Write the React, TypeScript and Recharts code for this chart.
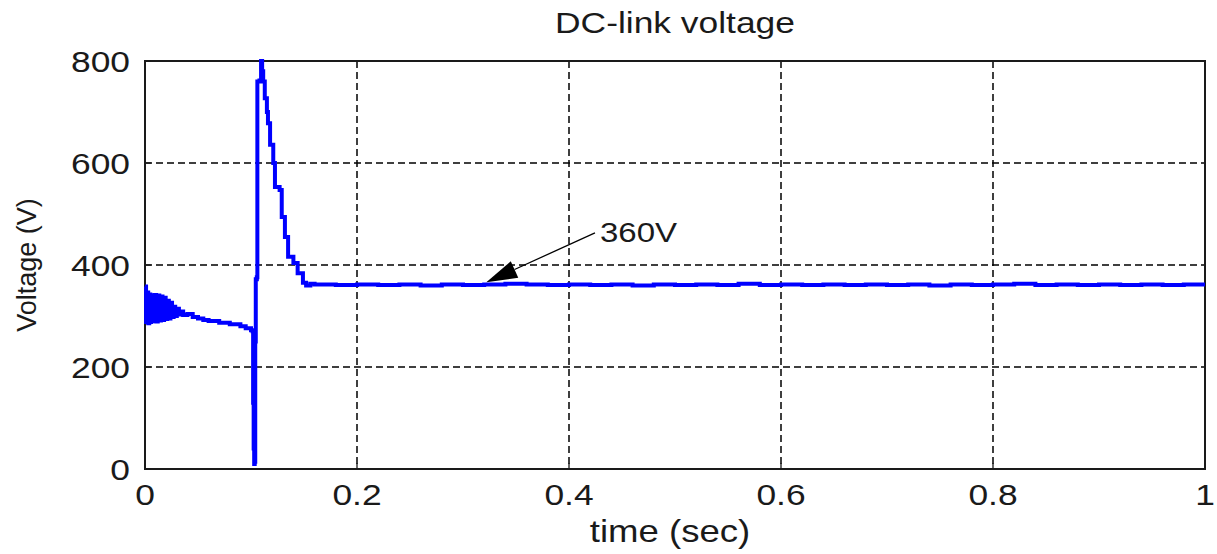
import {
  CartesianGrid,
  Label,
  Line,
  LineChart,
  ReferenceArea,
  ReferenceLine,
  XAxis,
  YAxis,
} from "recharts";

// Simulated DC-link voltage: start-up ripple, switching dip/overshoot, then steady state.
const TIME_S = [
  0, 0.001, 0.002, 0.003, 0.004, 0.005, 0.006, 0.0075, 0.009, 0.0105, 0.012,
  0.0135, 0.015, 0.0165, 0.018, 0.0195, 0.021, 0.0225, 0.024, 0.0255, 0.027,
  0.0285, 0.03, 0.032, 0.034, 0.036, 0.04, 0.045, 0.05, 0.055, 0.06, 0.07,
  0.08, 0.09, 0.095, 0.1, 0.1015, 0.102, 0.1025, 0.103, 0.1035, 0.104,
  0.1045, 0.1055, 0.106, 0.108, 0.1095, 0.1105, 0.1115, 0.113, 0.115, 0.116,
  0.118, 0.121, 0.1226, 0.127, 0.129, 0.132, 0.135, 0.14, 0.144, 0.149,
  0.152, 0.156, 0.16, 0.18, 0.2, 0.22, 0.24, 0.26, 0.28, 0.3, 0.32, 0.34,
  0.36, 0.38, 0.4, 0.42, 0.44, 0.46, 0.48, 0.5, 0.52, 0.54, 0.56, 0.58, 0.6,
  0.62, 0.64, 0.66, 0.68, 0.7, 0.72, 0.74, 0.76, 0.78, 0.8, 0.82, 0.84,
  0.86, 0.88, 0.9, 0.92, 0.94, 0.96, 0.98, 1.0,
];

const VOLTAGE_V = [
  358, 288, 346, 286, 342, 288, 340, 290, 341, 289, 340,
  291, 338, 292, 336, 294, 330, 295, 326, 298, 318,
  300, 314, 303, 309, 302, 304, 298, 295, 292, 290, 287,
  284, 280, 276, 272, 270, 130, 40, 10, 14, 250,
  372, 376, 760, 762, 800, 780, 760, 727, 700, 678,
  636, 600, 553, 547, 494, 455, 416, 404, 384, 365,
  360, 363, 362, 361, 362, 361, 362, 360, 362, 361, 362, 363,
  362, 361, 362, 361, 362, 360, 362, 361, 362, 361, 363, 361, 362,
  361, 362, 361, 362, 361, 362, 360, 362, 361, 362, 363, 361,
  362, 361, 362, 361, 362, 361, 362, 362,
];

const X_TICKS = [0, 0.2, 0.4, 0.6, 0.8, 1];
const Y_TICKS = [0, 200, 400, 600, 800];

// annotation arrow: text end -> tip on the settled trace
const NOTE_TEXT = "360V";
const NOTE_FROM = { t: 0.4245, v: 463 };
const NOTE_TIP = { t: 0.322, v: 366 };

const data = TIME_S.map((t, i) => ({ t, v: VOLTAGE_V[i] }));

const FONT = "'Liberation Sans', Arial, sans-serif";
const INK = "#1a1a1a";
const WIDE = 1.18; // the labels are drawn slightly widened

function XTick({ x, y, payload }: any) {
  return (
    <g transform={`translate(${x},${y}) scale(${WIDE},1)`}>
      <text x={0} y={0} dy={22} textAnchor="middle" fontSize={30} fill={INK} fontFamily={FONT}>
        {String(payload.value)}
      </text>
    </g>
  );
}

function YTick({ x, y, payload }: any) {
  return (
    <g transform={`translate(${x},${y}) scale(${WIDE},1)`}>
      <text x={0} y={0} dy={11} textAnchor="end" fontSize={30} fill={INK} fontFamily={FONT}>
        {String(payload.value)}
      </text>
    </g>
  );
}

const NoTick = () => <g />;

function Arrow(props: any) {
  const { x1, y1, x2, y2 } = props;
  const dx = x2 - x1;
  const dy = y2 - y1;
  const len = Math.hypot(dx, dy) || 1;
  const ux = dx / len;
  const uy = dy / len;
  const headLen = 31;
  const half = 9;
  const bx = x2 - ux * headLen;
  const by = y2 - uy * headLen;
  const pts = `${x2},${y2} ${bx - uy * half},${by + ux * half} ${bx + uy * half},${by - ux * half}`;
  return (
    <g>
      <line x1={x1} y1={y1} x2={bx} y2={by} stroke="#000" strokeWidth={1.3} />
      <polygon points={pts} fill="#000" />
      <g transform={`translate(${x1 + 5},${y1 + 9}) scale(${WIDE},1)`}>
        <text x={0} y={0} fontSize={28} fill={INK} fontFamily={FONT}>
          {NOTE_TEXT}
        </text>
      </g>
    </g>
  );
}

// x-axis title below the ticks, chart title above the plot, both centred on the plot
function AxisTitles(p: any) {
  const vb = p.viewBox;
  const cx = vb.x + vb.width / 2;
  return (
    <g>
      <g transform={`translate(${cx - 5},${vb.y + 73}) scale(${WIDE},1)`}>
        <text x={0} y={0} textAnchor="middle" fontSize={31} fill={INK} fontFamily={FONT}>
          time (sec)
        </text>
      </g>
      <g transform={`translate(${cx},33) scale(${WIDE},1)`}>
        <text x={0} y={0} textAnchor="middle" fontSize={30} fill={INK} fontFamily={FONT}>
          DC-link voltage
        </text>
      </g>
    </g>
  );
}

export default function App() {
  return (
    <div style={{ position: "absolute", left: 0, top: 0, width: 1217, height: 554, background: "#fff" }}>
      <LineChart
        width={1217}
        height={554}
        data={data}
        margin={{ top: 61, right: 12, bottom: 25, left: 0 }}
      >
        <CartesianGrid
          stroke="#000"
          strokeWidth={1.5}
          strokeDasharray="7 4"
          verticalValues={X_TICKS}
          horizontalValues={Y_TICKS}
        />
        <XAxis
          dataKey="t"
          type="number"
          domain={[0, 1]}
          ticks={X_TICKS}
          height={60}
          tickSize={-6}
          tickMargin={20}
          axisLine={false}
          tickLine={{ stroke: INK, strokeWidth: 1.3 }}
          tick={<XTick />}
          interval={0}
        >
          <Label content={AxisTitles} />
        </XAxis>
        <XAxis
          xAxisId="top"
          orientation="top"
          dataKey="t"
          type="number"
          domain={[0, 1]}
          ticks={X_TICKS}
          height={0}
          tickSize={-6}
          axisLine={false}
          tickLine={{ stroke: INK, strokeWidth: 1.3 }}
          tick={<NoTick />}
        />
        <YAxis
          type="number"
          domain={[0, 800]}
          ticks={Y_TICKS}
          width={145}
          tickSize={-6}
          tickMargin={21}
          axisLine={false}
          tickLine={{ stroke: INK, strokeWidth: 1.3 }}
          tick={<YTick />}
          interval={0}
        >
          <Label
            content={(p: any) => {
              const vb = p.viewBox;
              const cy = vb.y + vb.height / 2;
              return (
                <text
                  x={0}
                  y={0}
                  transform={`translate(36,${cy}) rotate(-90)`}
                  textAnchor="middle"
                  fontSize={27}
                  fill={INK}
                  fontFamily={FONT}
                >
                  Voltage (V)
                </text>
              );
            }}
          />
        </YAxis>
        <YAxis
          yAxisId="right"
          orientation="right"
          type="number"
          domain={[0, 800]}
          ticks={Y_TICKS}
          width={0}
          tickSize={-6}
          axisLine={false}
          tickLine={{ stroke: INK, strokeWidth: 1.3 }}
          tick={<NoTick />}
        />
        <ReferenceArea
          x1={0}
          x2={1}
          y1={0}
          y2={800}
          fill="none"
          fillOpacity={0}
          stroke={INK}
          strokeWidth={2}
          ifOverflow="visible"
        />
        <Line
          type="stepAfter"
          dataKey="v"
          stroke="#0000ff"
          strokeWidth={4}
          dot={false}
          isAnimationActive={false}
        />
        <ReferenceLine
          segment={[
            { x: NOTE_FROM.t, y: NOTE_FROM.v },
            { x: NOTE_TIP.t, y: NOTE_TIP.v },
          ]}
          shape={<Arrow />}
          ifOverflow="visible"
        />
      </LineChart>
    </div>
  );
}
